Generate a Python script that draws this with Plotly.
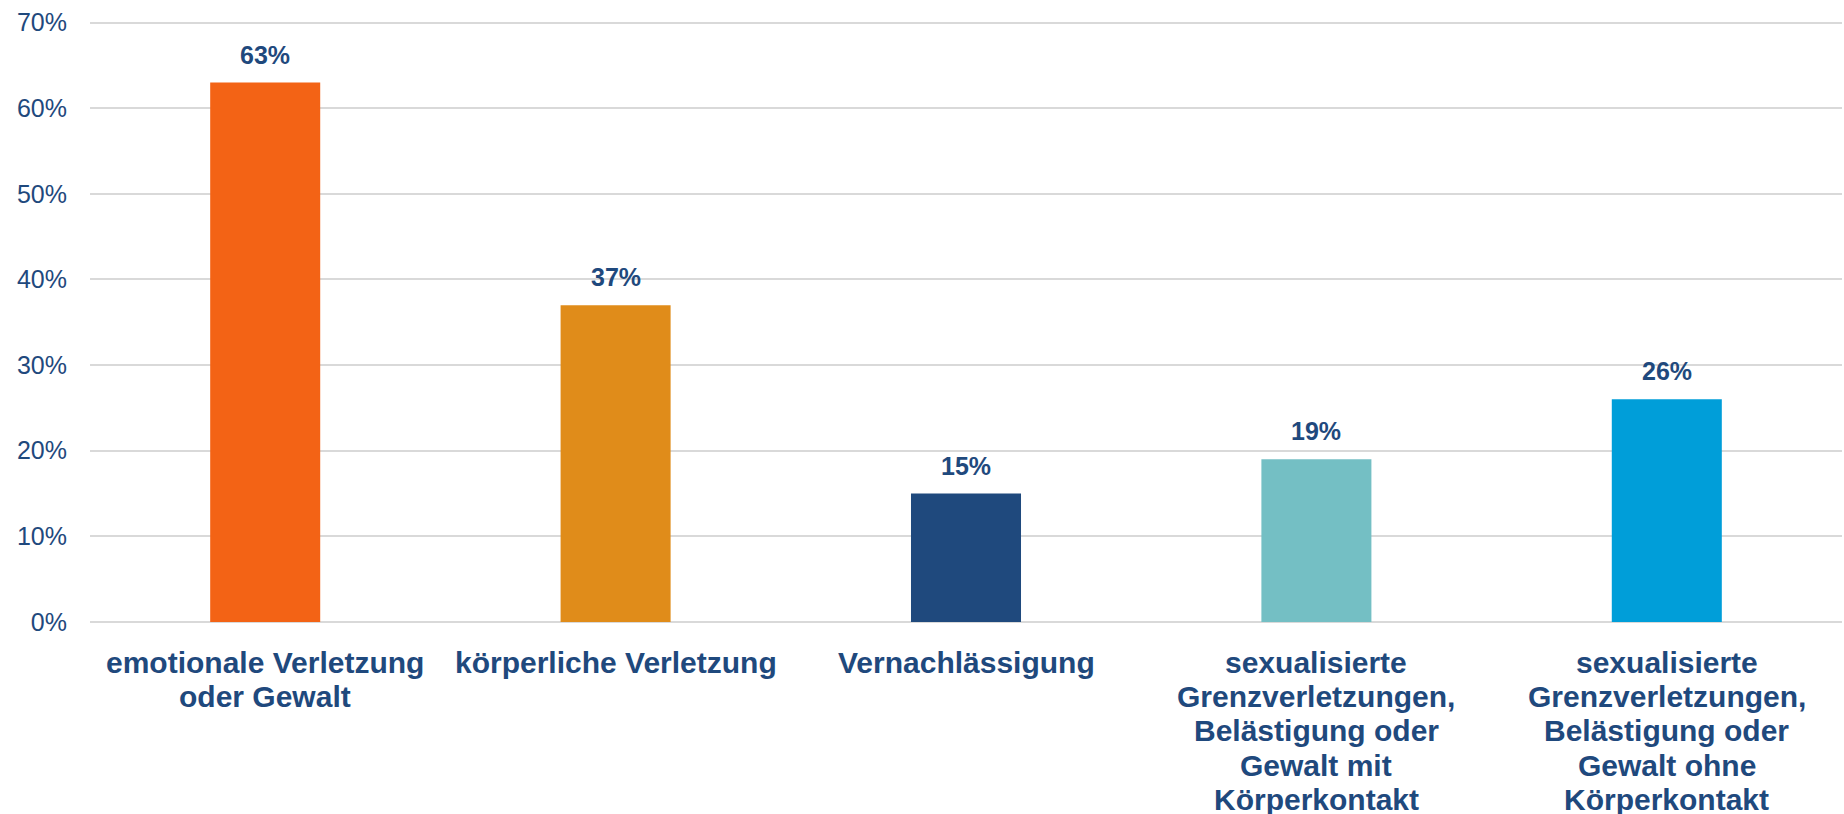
import plotly.graph_objects as go

categories = [
    "emotionale Verletzung<br>oder Gewalt",
    "körperliche Verletzung",
    "Vernachlässigung",
    "sexualisierte<br>Grenzverletzungen,<br>Belästigung oder<br>Gewalt mit<br>Körperkontakt",
    "sexualisierte<br>Grenzverletzungen,<br>Belästigung oder<br>Gewalt ohne<br>Körperkontakt",
]
values = [63, 37, 15, 19, 26]
colors = ["#F36315", "#E08C1A", "#1F497D", "#74BFC4", "#009ED9"]
y_ticks = [0, 10, 20, 30, 40, 50, 60, 70]
y_tick_labels = [f"{v}%" for v in y_ticks]

TEXT = "#1F497D"
FONT = "Liberation Sans, Arial, sans-serif"
LABEL_SIZE = 30
LINE_GAP = 34.4      # px between category label lines
FIRST_LINE = 40      # px below the axis to the centre of the first line

fig = go.Figure(
    go.Bar(
        x=categories,
        y=values,
        marker=dict(color=colors, line=dict(width=0)),
        hoverinfo="skip",
    )
)

# value labels above the bars
for c, v in zip(categories, values):
    fig.add_annotation(
        x=c, y=v, text=f"<b>{v}%</b>", showarrow=False,
        yanchor="bottom", yshift=12,
        font=dict(family=FONT, size=25, color=TEXT),
    )

# category labels (one annotation per line for tighter line spacing)
for c in categories:
    for i, line in enumerate(c.split("<br>")):
        fig.add_annotation(
            x=c, xref="x", y=0, yref="paper", text=f"<b>{line}</b>",
            showarrow=False, yanchor="middle", xanchor="center",
            yshift=-(FIRST_LINE + i * LINE_GAP),
            font=dict(family=FONT, size=LABEL_SIZE, color=TEXT),
        )

fig.update_layout(
    width=1844, height=814,
    margin=dict(l=90, r=2, t=20, b=192),
    paper_bgcolor="white", plot_bgcolor="white",
    bargap=0.686,
    showlegend=False,
    font=dict(family=FONT, color=TEXT),
)
fig.update_xaxes(
    showticklabels=False,
    showgrid=False, showline=False, ticks="",
    automargin=False,
)
fig.update_yaxes(
    range=[0, 70.3], tickvals=y_ticks, ticktext=y_tick_labels,
    tickfont=dict(family=FONT, size=25, color=TEXT),
    showgrid=True, gridcolor="#D9D9D9", gridwidth=2,
    zeroline=True, zerolinecolor="#D9D9D9", zerolinewidth=2,
    showline=False, ticks="", ticklabelstandoff=22,
    automargin=False,
)

fig.write_html(
    "out.html",
    config={"displayModeBar": False},
    post_script="document.body.style.margin='0';document.body.style.overflow='hidden';",
)
